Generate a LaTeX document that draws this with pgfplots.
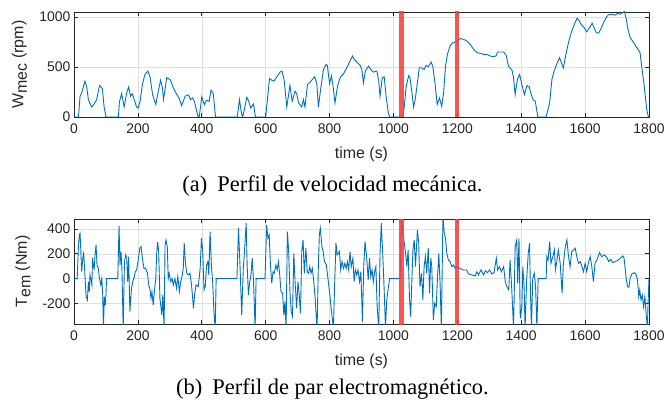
\documentclass[border=0pt]{standalone}
\usepackage{pgfplots}
\pgfplotsset{compat=1.18}
\usepackage{fontspec}
\setmainfont{Liberation Serif}
\newfontfamily\arial{Liberation Sans}
\definecolor{mblue}{RGB}{0,114,189}
\definecolor{mgray}{RGB}{38,38,38}
\definecolor{mred}{RGB}{255,60,60}

\pgfplotsset{mstyle/.style={
  scale only axis, width=575bp, height=105bp,
  xmin=0, xmax=1800,
  xtick={0,200,...,1800},
  grid=major, grid style={draw=black!12, line width=0.5bp},
  axis line style={mgray, line width=0.6bp},
  tick style={mgray, line width=0.6bp},
  tick align=inside, major tick length=4bp,
  ticklabel style={font=\arial\fontsize{14}{16}\selectfont, text=mgray},
  xticklabel style={yshift=-3bp},
  label style={font=\arial\fontsize{16}{18}\selectfont, text=mgray},
  /pgf/number format/assume math mode=true,
  /pgf/number format/1000 sep={},
  xlabel={time (s)},
  xlabel style={at={(axis description cs:0.5,-0.36)}, anchor=center},
  clip=true,
}}

\begin{document}
\begin{tikzpicture}
\path[use as bounding box] (0bp,0bp) rectangle (665bp,-407bp);
\begin{axis}[mstyle, at={(74bp,-12bp)}, anchor=north west,
  ymin=0, ymax=1050, ytick={0,500,1000},
  ylabel={W\raisebox{-0.22em}{mec} (rpm)},
  ylabel style={at={(axis description cs:-0.095,0.5)}, anchor=center}]
\addplot[mblue, line width=0.9bp] coordinates {
(0,0) (14,0) (19,208) (24,240) (34,358) (40,300) (45,174) (55,100) (62,124) (71,174)
(79,300) (81,315) (89,281) (94,107) (100,0) (139,0) (142,147) (149,234) (157,100)
(165,241) (171,300) (177,208) (182,234) (187,188) (196,100) (201,90) (207,157)
(214,325) (222,425) (231,459) (238,402) (246,224) (256,124) (264,258) (271,368)
(277,291) (280,174) (285,275) (290,392) (301,375) (311,291) (322,224) (329,188)
(337,114) (348,208) (358,221) (365,174) (371,191) (377,157) (384,57) (389,0) (392,0)
(400,201) (408,124) (415,168) (423,157) (429,268) (436,234) (443,0) (511,0)
(518,174) (524,40) (528,0) (535,100) (541,198) (547,157) (553,90) (557,107)
(562,131) (568,0) (600,0) (612,385) (619,368) (626,358) (635,402) (645,449)
(651,459) (658,368) (666,100) (676,315) (683,157) (692,258) (697,234) (703,141)
(713,100) (718,174) (723,100) (731,325) (739,348) (753,402) (760,335) (765,100)
(772,275) (781,476) (789,526) (793,516) (800,335) (806,409) (811,308) (817,141)
(825,308) (833,392) (844,435) (854,492) (864,559) (872,610) (877,576) (885,549)
(896,516) (901,476) (906,342) (912,459) (922,509) (929,476) (937,449) (948,459)
(954,358) (958,208) (965,392) (971,402) (977,208) (984,40) (988,0) (1029,0)
(1033,74) (1040,308) (1048,415) (1052,392) (1058,241) (1063,100) (1068,174)
(1075,342) (1081,492) (1088,492) (1096,476) (1102,516) (1109,502) (1118,549)
(1123,509) (1130,342) (1137,124) (1144,191) (1151,107) (1157,241) (1163,509)
(1169,626) (1177,710) (1186,744) (1196,750) (1209,784) (1219,777) (1230,760)
(1240,727) (1251,677) (1261,643) (1272,637) (1282,626) (1292,626) (1303,610)
(1313,603) (1321,610) (1326,650) (1336,650) (1345,650) (1353,616) (1360,509)
(1371,469) (1376,392) (1381,224) (1388,375) (1395,425) (1402,325) (1410,224)
(1418,315) (1425,301) (1430,241) (1437,174) (1444,157) (1452,0) (1478,0)
(1489,141) (1496,375) (1503,459) (1511,526) (1520,593) (1525,549) (1532,492)
(1541,643) (1548,744) (1555,827) (1564,911) (1575,988) (1582,961) (1589,918)
(1597,894) (1605,851) (1614,894) (1622,938) (1628,894) (1635,844) (1642,838)
(1649,878) (1658,945) (1666,995) (1673,1022) (1684,1028) (1694,1018) (1701,1035)
(1710,1028) (1718,1045) (1723,1055) (1729,978) (1734,878) (1741,794) (1752,744)
(1762,693) (1772,643) (1777,509) (1785,308) (1793,74) (1798,0) (1800,0)
};
\addplot[fill=mred, draw=none, fill opacity=0.88] coordinates {(1018,-100) (1034,-100) (1034,1200) (1018,1200)} -- cycle;
\addplot[fill=mred, draw=none, fill opacity=0.88] coordinates {(1192,-100) (1205,-100) (1205,1200) (1192,1200)} -- cycle;
\end{axis}

\begin{axis}[mstyle, at={(74bp,-219bp)}, anchor=north west,
  ymin=-365, ymax=480, ytick={-200,0,200,400}, yticklabels={-200,0,200,400},
  ylabel={T\raisebox{-0.22em}{em} (Nm)},
  ylabel style={at={(axis description cs:-0.089,0.5)}, anchor=center}]
\addplot[mblue, line width=0.9bp] coordinates {
(0,0) (10,0) (14,271) (17,352) (19,365) (21,245) (24,56) (27,150) (30,218) (33,83)
(38,-145) (42,-172) (45,-24) (48,-105) (50,30) (53,-10) (56,-51) (58,164) (63,70)
(66,191) (69,271) (72,110) (76,83) (79,16) (84,-51) (87,0) (90,-131) (92,-400)
(95,-145) (98,-212) (100,-131) (102,0) (137,0) (141,425) (144,110) (147,218)
(150,83) (154,-400) (158,137) (162,191) (165,164) (168,-24) (171,177) (175,-266)
(180,-78) (184,-24) (188,8) (192,56) (196,70) (201,150) (206,245) (210,258)
(214,164) (219,83) (224,83) (230,43) (234,-51) (238,-91) (241,-159) (244,-105)
(248,-212) (251,-118) (256,0) (259,212) (262,293) (265,218) (269,-159) (275,-293)
(278,-131) (282,-400) (285,266) (288,312) (292,258) (295,0) (298,43) (303,-24)
(307,0) (311,-51) (316,0) (321,-78) (325,16) (330,-105) (334,-24) (338,16)
(342,83) (345,285) (349,124) (353,43) (358,30) (363,43) (368,-51) (374,-239)
(378,-118) (382,-51) (389,-64) (395,83) (399,325) (403,218) (407,-91) (411,-64)
(415,110) (419,137) (422,30) (426,379) (430,110) (434,-24) (438,-266) (442,-400)
(445,0) (510,0) (515,406) (520,83) (525,-293) (530,83) (533,191) (539,446)
(542,110) (546,-131) (550,-24) (554,30) (558,164) (562,-24) (567,-400) (570,0)
(598,0) (603,433) (607,325) (611,352) (615,110) (619,-37) (623,56) (627,43)
(632,110) (636,70) (640,137) (644,30) (648,-105) (653,-118) (657,-293) (660,-185)
(664,-400) (668,379) (672,218) (676,-105) (680,-266) (684,-306) (688,204)
(692,-24) (697,-239) (701,-24) (705,-131) (709,-279) (713,218) (717,312) (721,43)
(726,245) (730,56) (734,43) (738,97) (742,43) (746,83) (750,-10) (755,-159)
(758,-293) (761,-400) (765,110) (768,352) (771,406) (776,258) (780,218) (784,137)
(790,110) (795,0) (800,-105) (805,-239) (812,-400) (816,-37) (820,285) (824,191)
(831,218) (835,70) (839,137) (844,83) (848,124) (852,83) (856,137) (860,70)
(864,218) (868,97) (873,164) (877,-24) (881,70) (885,30) (889,70) (894,-24)
(898,56) (903,-347) (907,97) (911,298) (916,177) (921,-10) (925,164) (929,16)
(933,70) (937,-24) (941,56) (945,97) (949,-226) (954,-400) (958,204) (962,446)
(967,164) (971,-91) (975,-400) (979,-172) (983,-91) (988,0) (1021,0) (1025,470)
(1034,285) (1038,204) (1042,97) (1046,231) (1050,-145) (1054,-306) (1058,16)
(1061,231) (1065,312) (1069,97) (1075,392) (1079,285) (1083,-64) (1088,43)
(1092,-172) (1096,97) (1100,177) (1104,43) (1109,245) (1113,-118) (1117,164)
(1120,97) (1125,-333) (1129,-199) (1134,-226) (1138,16) (1142,204) (1146,-37)
(1150,-400) (1155,500) (1159,366) (1163,325) (1167,204) (1172,150) (1177,137)
(1183,97) (1188,110) (1193,83) (1199,97) (1207,83) (1219,70) (1229,70) (1235,38)
(1245,30) (1256,22) (1261,56) (1266,30) (1274,70) (1282,30) (1288,64) (1294,48)
(1301,70) (1308,38) (1315,48) (1322,164) (1326,70) (1332,97) (1338,56) (1345,97)
(1350,-24) (1355,-64) (1361,-91) (1365,150) (1370,-64) (1376,-400) (1381,258)
(1386,312) (1389,-37) (1393,325) (1397,-320) (1402,-226) (1405,97) (1409,-64)
(1412,-400) (1417,-10) (1422,204) (1426,285) (1429,-118) (1432,-400) (1436,0)
(1441,43) (1445,-64) (1449,-400) (1453,0) (1478,0) (1480,177) (1484,150)
(1489,298) (1493,124) (1499,177) (1504,231) (1507,70) (1512,150) (1516,231)
(1522,124) (1528,-118) (1532,124) (1538,258) (1543,312) (1548,177) (1553,97)
(1558,218) (1564,231) (1569,245) (1574,177) (1579,124) (1585,137) (1590,97)
(1595,56) (1600,124) (1605,56) (1610,124) (1616,177) (1621,97) (1626,-24)
(1631,124) (1637,150) (1645,210) (1652,177) (1660,191) (1668,172) (1674,137)
(1680,156) (1687,129) (1694,137) (1701,145) (1710,164) (1718,183) (1722,164)
(1729,-10) (1733,-64) (1737,-70) (1741,3) (1746,38) (1754,48) (1760,30)
(1764,-10) (1768,-145) (1771,-91) (1775,-172) (1779,-132) (1783,-226) (1787,-145)
(1791,-280) (1795,-400) (1797,-200) (1800,0)
};
\addplot[fill=mred, draw=none, fill opacity=0.88] coordinates {(1018,-500) (1034,-500) (1034,600) (1018,600)} -- cycle;
\addplot[fill=mred, draw=none, fill opacity=0.88] coordinates {(1192,-500) (1205,-500) (1205,600) (1192,600)} -- cycle;
\end{axis}

\node[anchor=center] at (332.5bp,-186bp) {\fontsize{22.5}{25}\selectfont (a)\hspace{0.45em}Perfil de velocidad mecánica.};
\node[anchor=center] at (332.5bp,-389bp) {\fontsize{22.5}{25}\selectfont (b)\hspace{0.45em}Perfil de par electromagnético.};
\end{tikzpicture}
\end{document}
